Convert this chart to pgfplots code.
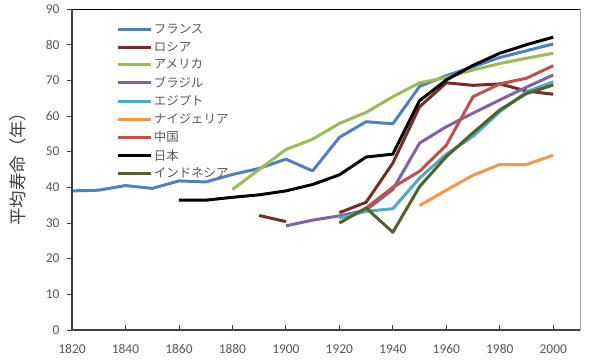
\documentclass[border=0pt]{standalone}
\usepackage{pgfplots}
\pgfplotsset{compat=1.18}
\usepackage{fontspec}
\setmainfont{Carlito}
\newfontfamily\jp{Noto Sans CJK JP}
\definecolor{cFrance}{HTML}{4F81BD}
\definecolor{cRussia}{HTML}{772C2A}
\definecolor{cUSA}{HTML}{9BBB59}
\definecolor{cBrazil}{HTML}{8064A2}
\definecolor{cEgypt}{HTML}{4BACC6}
\definecolor{cNigeria}{HTML}{F79646}
\definecolor{cChina}{HTML}{C0504D}
\definecolor{cJapan}{HTML}{000000}
\definecolor{cIndo}{HTML}{4F6228}
\definecolor{tickgray}{HTML}{595959}
\definecolor{axgray}{HTML}{404040}
\begin{document}
\begin{tikzpicture}
\begin{axis}[
  at={(0,0)}, anchor=south west,
  scale only axis, width=508bp, height=321bp,
  xmin=1820, xmax=2010, ymin=0, ymax=90,
  xtick={1820,1840,...,2000}, ytick={0,10,...,90},
  unbounded coords=jump,
  axis line style={draw=gray!70, line width=0.6bp},
  tick style={draw=axgray, line width=0.8bp},
  major tick length=5bp,
  xtick align=inside, ytick align=outside,
  xtick pos=bottom, ytick pos=left,
  tick label style={font=\fontsize{13.5}{15}\selectfont, text=tickgray},
  xticklabel style={yshift=-11bp},
  yticklabel style={xshift=-4bp},
  /pgf/number format/assume math mode=true,
  /pgf/number format/1000 sep={},
  ylabel={\jp 平均寿命（年）},
  ylabel style={at={(axis description cs:-0.106,0.515)}, anchor=center, font=\fontsize{17.5}{19}\selectfont, text=axgray},
  legend style={at={(0.082,0.962)}, anchor=north west, draw=none, fill=none,
    font=\jp\fontsize{12.5}{14}\selectfont, text=tickgray,
    row sep=4.4bp, nodes={inner sep=1bp}},
  legend cell align=left,
  legend image code/.code={\draw[#1, line width=3bp] (0bp,0bp) -- (33bp,0bp);},
  every axis plot/.append style={line width=3bp, line join=round},
  after end axis/.code={
    \draw[axgray, line width=1.3bp] (rel axis cs:0,1) -- (rel axis cs:0,0) -- (rel axis cs:1,0);
    \draw[black, line width=0.6bp] (rel axis cs:0,1) -- (rel axis cs:1,1);
  },
]
\addplot[cFrance] coordinates {(1820,39.0)(1830,39.2)(1840,40.5)(1850,39.7)(1860,41.8)(1870,41.5)(1880,43.6)(1890,45.3)(1900,47.9)(1910,44.6)(1920,54.0)(1930,58.4)(1940,57.8)(1950,68.3)(1960,71.3)(1970,73.8)(1980,76.4)(1990,78.3)(2000,80.2)};
\addlegendentry{フランス}
\addplot[cRussia] coordinates {(1890,32.1)(1900,30.4)(1910,nan)(1920,32.9)(1930,35.8)(1940,46.8)(1950,62.6)(1960,69.3)(1970,68.6)(1980,69.0)(1990,67.0)(2000,66.1)};
\addlegendentry{ロシア}
\addplot[cUSA] coordinates {(1880,39.4)(1890,45.0)(1900,50.6)(1910,53.5)(1920,57.9)(1930,61.0)(1940,65.4)(1950,69.3)(1960,70.8)(1970,72.9)(1980,74.7)(1990,76.2)(2000,77.6)};
\addlegendentry{アメリカ}
\addplot[cBrazil] coordinates {(1900,29.2)(1910,30.8)(1920,32.0)(1930,33.6)(1940,39.4)(1950,52.4)(1960,57.0)(1970,60.8)(1980,64.5)(1990,68.1)(2000,71.5)};
\addlegendentry{ブラジル}
\addplot[cEgypt] coordinates {(1920,31.4)(1930,33.3)(1940,34.0)(1950,42.6)(1960,49.3)(1970,54.3)(1980,61.2)(1990,66.8)(2000,69.6)};
\addlegendentry{エジプト}
\addplot[cNigeria] coordinates {(1950,34.9)(1960,39.2)(1970,43.4)(1980,46.4)(1990,46.4)(2000,49.0)};
\addlegendentry{ナイジェリア}
\addplot[cChina] coordinates {(1930,34.2)(1940,40.0)(1950,44.5)(1960,51.8)(1970,65.4)(1980,69.0)(1990,70.6)(2000,74.1)};
\addlegendentry{中国}
\addplot[cJapan] coordinates {(1860,36.4)(1870,36.4)(1880,37.2)(1890,37.9)(1900,39.0)(1910,40.8)(1920,43.5)(1930,48.5)(1940,49.3)(1950,64.3)(1960,70.1)(1970,74.2)(1980,77.6)(1990,80.0)(2000,82.1)};
\addlegendentry{日本}
\addplot[cIndo] coordinates {(1920,30.0)(1930,34.2)(1940,27.4)(1950,40.2)(1960,48.6)(1970,55.3)(1980,61.7)(1990,66.3)(2000,68.7)};
\addlegendentry{インドネシア}
\end{axis}
\pgfresetboundingbox
\path (-72bp,-30bp) rectangle (538bp,330bp);
\end{tikzpicture}
\end{document}
